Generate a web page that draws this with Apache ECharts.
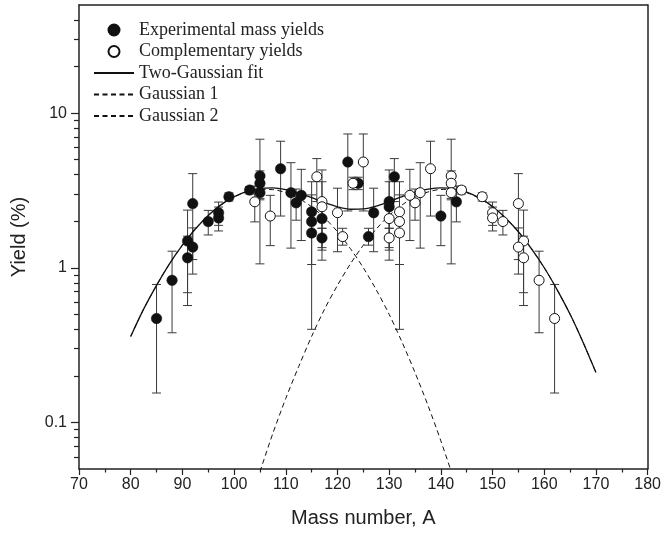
<!DOCTYPE html>
<html><head><meta charset="utf-8">
<script src="https://cdn.jsdelivr.net/npm/echarts@6/dist/echarts.min.js"></script>
<style>html,body{margin:0;padding:0;background:#fff}#c{width:664px;height:537px}</style>
</head><body><div id="c"></div>
<script>
// Experimental mass yields (filled)
const expA  = [85, 88, 91, 91, 92, 92, 95, 97, 97, 99, 103, 105, 105, 105, 109, 111, 112, 113, 115, 115, 115, 117, 117, 122, 124, 126, 127, 130, 130, 131, 140, 143];
const expY  = [0.47, 0.83, 1.49, 1.16, 1.36, 2.60, 1.99, 2.27, 2.10, 2.88, 3.18, 3.92, 3.52, 3.06, 4.37, 3.06, 2.63, 2.94, 2.30, 1.99, 1.68, 2.08, 1.56, 4.83, 3.52, 1.59, 2.27, 2.68, 2.48, 3.88, 2.16, 2.67];
const expLo = [0.155, 0.38, 0.57, 0.69, 0.91, 1.13, 1.63, 1.88, 1.73, 2.70, 3.00, 1.06, 2.81, 2.75, 2.16, 1.34, 2.03, 1.50, 1.05, 1.60, 0.40, 1.80, 1.35, 2.33, 3.20, 1.40, 1.27, 1.12, 1.30, 2.68, 1.39, 1.98];
const expHi = [0.78, 1.28, 2.36, 1.60, 1.81, 4.06, 2.35, 2.66, 2.47, 3.05, 3.35, 6.78, 4.23, 3.37, 6.58, 4.78, 3.23, 4.33, 3.60, 2.40, 2.96, 2.40, 1.80, 7.33, 3.85, 1.80, 3.27, 4.29, 3.60, 5.08, 2.94, 3.38];

// Complementary yields (open)
const compA  = [162, 159, 156, 156, 155, 155, 152, 150, 150, 148, 144, 142, 142, 142, 138, 136, 135, 134, 132, 132, 132, 130, 130, 125, 123, 121, 120, 117, 117, 116, 107, 104];
const compY  = [0.47, 0.83, 1.49, 1.16, 1.36, 2.60, 1.99, 2.27, 2.10, 2.88, 3.18, 3.92, 3.52, 3.06, 4.37, 3.06, 2.63, 2.94, 2.30, 1.99, 1.68, 2.08, 1.56, 4.83, 3.52, 1.59, 2.27, 2.68, 2.48, 3.88, 2.16, 2.67];
const compLo = [0.155, 0.38, 0.57, 0.69, 0.91, 1.13, 1.63, 1.88, 1.73, 2.70, 3.00, 1.06, 2.81, 2.75, 2.16, 1.34, 2.03, 1.50, 1.05, 1.60, 0.40, 1.80, 1.35, 2.33, 3.20, 1.40, 1.27, 1.12, 1.30, 2.68, 1.39, 1.98];
const compHi = [0.78, 1.28, 2.36, 1.60, 1.81, 4.06, 2.35, 2.66, 2.47, 3.05, 3.35, 6.78, 4.23, 3.37, 6.58, 4.78, 3.23, 4.33, 3.60, 2.40, 2.96, 2.40, 1.80, 7.33, 3.85, 1.80, 3.27, 4.29, 3.60, 5.08, 2.94, 3.38];

// Two-Gaussian fit curve
const fitA = [80, 82.5, 85, 87.5, 90, 92.5, 95, 97.5, 100, 102.5, 105, 107.5, 110, 112.5, 115, 117.5, 120, 122.5, 125, 127.5, 130, 132.5, 135, 137.5, 140, 142.5, 145, 147.5, 150, 152.5, 155, 157.5, 160, 162.5, 165, 167.5, 170];
const fitY = [0.36, 0.54, 0.77, 1.06, 1.40, 1.78, 2.18, 2.56, 2.88, 3.12, 3.26, 3.29, 3.20, 3.04, 2.84, 2.64, 2.48, 2.39, 2.40, 2.50, 2.68, 2.88, 3.08, 3.22, 3.29, 3.24, 3.08, 2.82, 2.49, 2.10, 1.71, 1.33, 1.00, 0.72, 0.50, 0.33, 0.21];

// Gaussian 1
const g1A = [80, 82.5, 85, 87.5, 90, 92.5, 95, 97.5, 100, 102.5, 105, 107.5, 110, 112.5, 115, 117.5, 120, 122.5, 125, 127.5, 130, 132.5, 135, 137.5, 140, 142.5];
const g1Y = [0.36, 0.54, 0.77, 1.06, 1.40, 1.78, 2.18, 2.55, 2.87, 3.09, 3.21, 3.20, 3.06, 2.81, 2.48, 2.10, 1.71, 1.33, 1.00, 0.72, 0.50, 0.33, 0.21, 0.129, 0.076, 0.043];

// Gaussian 2
const g2A = [105, 107.5, 110, 112.5, 115, 117.5, 120, 122.5, 125, 127.5, 130, 132.5, 135, 137.5, 140, 142.5, 145, 147.5, 150, 152.5, 155, 157.5, 160, 162.5, 165, 167.5, 170];
const g2Y = [0.048, 0.085, 0.143, 0.23, 0.36, 0.54, 0.77, 1.06, 1.40, 1.78, 2.18, 2.55, 2.87, 3.09, 3.21, 3.20, 3.06, 2.81, 2.48, 2.10, 1.71, 1.33, 1.00, 0.72, 0.50, 0.33, 0.21];

// Axis ticks
const xMin = 70, xMax = 180, xStep = 10;
const yMin = 0.05, yMax = 50;
const yMajorTicks = [0.1, 1, 10];
const yMinorTicks = [0.06, 0.07, 0.08, 0.09, 0.2, 0.3, 0.4, 0.5, 0.6, 0.7, 0.8, 0.9, 2, 3, 4, 5, 6, 7, 8, 9, 20, 30, 40];

const INK = '#111';
const pairs = (a, b) => a.map((v, i) => [v, b[i]]);
const triples = (a, lo, hi) => a.map((v, i) => [v, lo[i], hi[i]]);

function errRender(params, api) {
  const x = api.value(0), lo = api.value(1), hi = api.value(2);
  const pHi = api.coord([x, hi]);
  const pLo = api.coord([x, lo]);
  const cw = 4.5;
  const st = { stroke: '#3a3a3a', lineWidth: 1 };
  return {
    type: 'group',
    children: [
      { type: 'line', shape: { x1: pHi[0], y1: pHi[1], x2: pLo[0], y2: pLo[1] }, style: st },
      { type: 'line', shape: { x1: pHi[0] - cw, y1: pHi[1], x2: pHi[0] + cw, y2: pHi[1] }, style: st },
      { type: 'line', shape: { x1: pLo[0] - cw, y1: pLo[1], x2: pLo[0] + cw, y2: pLo[1] }, style: st }
    ]
  };
}

const chart = echarts.init(document.getElementById('c'), null, { renderer: 'canvas' });
const axisCol = '#222';
const fmt = v => String(+(+v).toPrecision(3));
const noSym = { opacity: 0 };

const option = {
  animation: false,
  backgroundColor: '#fff',
  grid: { left: 79, right: 16, top: 5, bottom: 68, containLabel: false },
  legend: {
    orient: 'vertical', left: 88, top: 16,
    itemWidth: 40, itemHeight: 11, itemGap: 3.5,
    textStyle: { fontFamily: 'Liberation Serif', fontSize: 18, color: '#222' },
    data: [
      { name: 'Experimental mass yields', itemStyle: { opacity: 1 } },
      { name: 'Complementary yields', itemStyle: { opacity: 1 } },
      { name: 'Two-Gaussian fit', itemStyle: noSym },
      { name: 'Gaussian 1', itemStyle: noSym },
      { name: 'Gaussian 2', itemStyle: noSym }
    ]
  },
  xAxis: [
    {
      type: 'value', min: xMin, max: xMax, interval: xStep, position: 'bottom',
      name: 'Mass number, A', nameLocation: 'middle', nameGap: 39,
      nameTextStyle: { fontFamily: 'Liberation Sans', fontSize: 20, color: '#222' },
      axisLine: { onZero: false, lineStyle: { color: axisCol, width: 1.5 } },
      axisTick: { length: 6, lineStyle: { color: axisCol, width: 1.2 } },
      minorTick: { show: true, splitNumber: 2, length: 3.5, lineStyle: { color: axisCol, width: 1.2 } },
      axisLabel: { fontFamily: 'Liberation Sans', fontSize: 16, color: '#222', margin: 8 },
      splitLine: { show: false }
    },
    {
      type: 'value', min: xMin, max: xMax, position: 'top',
      axisLine: { onZero: false, lineStyle: { color: axisCol, width: 1.5 } },
      axisTick: { show: false }, axisLabel: { show: false }, splitLine: { show: false }
    }
  ],
  yAxis: [
    {
      type: 'log', logBase: 10, min: yMin, max: yMax, position: 'left',
      name: 'Yield (%)', nameLocation: 'middle', nameGap: 50,
      nameTextStyle: { fontFamily: 'Liberation Sans', fontSize: 20, color: '#222' },
      axisLine: { lineStyle: { color: axisCol, width: 1.5 } },
      axisTick: { customValues: yMajorTicks, length: 8, lineStyle: { color: axisCol, width: 1.2 } },
      axisLabel: { customValues: yMajorTicks, formatter: fmt, fontFamily: 'Liberation Sans', fontSize: 16, color: '#222', margin: 12 },
      splitLine: { show: false }
    },
    {
      type: 'log', logBase: 10, min: yMin, max: yMax, position: 'left',
      axisLine: { show: false },
      axisTick: { customValues: yMinorTicks, length: 5, lineStyle: { color: axisCol, width: 1.2 } },
      axisLabel: { show: false }, splitLine: { show: false }
    },
    {
      type: 'log', logBase: 10, min: yMin, max: yMax, position: 'right',
      axisLine: { lineStyle: { color: axisCol, width: 1.5 } },
      axisTick: { show: false }, axisLabel: { show: false }, splitLine: { show: false }
    }
  ],
  series: [
    { name: 'expErr', type: 'custom', renderItem: errRender, data: triples(expA, expLo, expHi), encode: { x: 0, y: [1, 2] }, z: 1, silent: true },
    { name: 'compErr', type: 'custom', renderItem: errRender, data: triples(compA, compLo, compHi), encode: { x: 0, y: [1, 2] }, z: 1, silent: true },
    { name: 'Two-Gaussian fit', type: 'line', data: pairs(fitA, fitY), symbol: 'none', smooth: 0.3, lineStyle: { color: INK, width: 1.3, type: 'solid' }, itemStyle: { color: INK }, z: 2 },
    { name: 'Gaussian 1', type: 'line', data: pairs(g1A, g1Y), symbol: 'none', smooth: 0.3, lineStyle: { color: INK, width: 1, type: [5, 3.5] }, itemStyle: { color: INK }, z: 2 },
    { name: 'Gaussian 2', type: 'line', data: pairs(g2A, g2Y), symbol: 'none', smooth: 0.3, lineStyle: { color: INK, width: 1, type: [5, 3.5] }, itemStyle: { color: INK }, z: 2 },
    { name: 'Experimental mass yields', type: 'scatter', data: pairs(expA, expY), symbol: 'circle', symbolSize: 10.5, itemStyle: { color: INK, borderColor: INK, borderWidth: 0.5, opacity: 1 }, z: 3 },
    { name: 'Complementary yields', type: 'scatter', data: pairs(compA, compY), symbol: 'circle', symbolSize: 10, itemStyle: { color: '#fff', borderColor: INK, borderWidth: 1, opacity: 1 }, z: 3 }
  ]
};
chart.setOption(option);
</script>
</body></html>
